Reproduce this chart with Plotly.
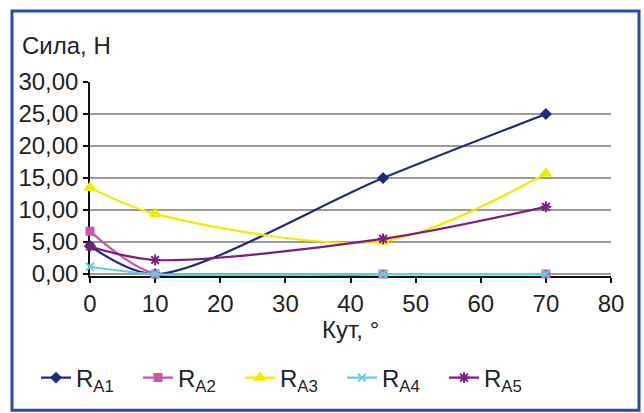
import plotly.graph_objects as go

angles = [0, 10, 45, 70]
r_a1 = [4.4, 0.0, 15.0, 25.0]
r_a2 = [6.7, 0.0, 0.0, 0.0]
r_a3 = [13.5, 9.4, 5.1, 15.7]
r_a4 = [1.15, 0.0, 0.0, 0.0]
r_a5 = [4.3, 2.2, 5.5, 10.5]

names = ["R<sub>A1</sub>", "R<sub>A2</sub>", "R<sub>A3</sub>", "R<sub>A4</sub>", "R<sub>A5</sub>"]
series = [r_a1, r_a2, r_a3, r_a4, r_a5]
colors = ["#1f2a7a", "#cc55aa", "#f2ea00", "#66cce0", "#7a1f80"]
symbols = ["diamond", "square", "triangle-up", "x-thin", "asterisk"]
sizes = [7, 7, 9, 8, 9]

y_ticks = [0, 5, 10, 15, 20, 25, 30]
y_labels = ["0,00", "5,00", "10,00", "15,00", "20,00", "25,00", "30,00"]
x_ticks = [0, 10, 20, 30, 40, 50, 60, 70, 80]

FONT = "Liberation Sans, Arial, sans-serif"
FS = 24

fig = go.Figure()
for name, ys, c, s, sz in zip(names, series, colors, symbols, sizes):
    fig.add_trace(go.Scatter(
        x=angles, y=ys, name=name, mode="lines+markers",
        line=dict(color=c, width=2.2, shape="spline", smoothing=0.85),
        marker=dict(symbol=s, size=sz, color=c, line=dict(color=c, width=2)),
        cliponaxis=False,
    ))

W, H = 644, 413
Y0 = -0.3
L, R, T = 90, 33, 82
B = 139 - (-Y0) * 6.4
pw, ph = W - L - R, H - T - B

def px(x):
    return (x - L) / pw

def py(y):
    return (H - B - y) / ph

fig.update_layout(
    width=W, height=H,
    margin=dict(l=L, r=R, t=T, b=B, pad=0, autoexpand=False),
    paper_bgcolor="white", plot_bgcolor="white",
    font=dict(family=FONT, size=FS, color="#222222"),
    showlegend=True,
    legend=dict(
        orientation="h", xref="container", yref="container",
        x=36 / W, y=1 - 378 / H, xanchor="left", yanchor="middle",
        font=dict(size=FS, color="#222222"), itemwidth=30,
        entrywidth=57, entrywidthmode="pixels",
        bgcolor="rgba(0,0,0,0)", tracegroupgap=0,
    ),
    xaxis=dict(
        range=[0, 80], tickvals=x_ticks, ticktext=[str(v) for v in x_ticks],
        showgrid=False, zeroline=False, layer="below traces",
        showline=True, linecolor="#111111", linewidth=1.5,
        ticks="outside", ticklen=5, tickcolor="#111111", tickwidth=1.5,
        tickfont=dict(size=FS, family=FONT, color="#222222"),
    ),
    yaxis=dict(
        range=[Y0, 30], tickvals=y_ticks, ticktext=y_labels,
        showgrid=True, gridcolor="#9a9a9a", gridwidth=1.5, zeroline=False,
        layer="below traces",
        showline=True, linecolor="#111111", linewidth=1.5,
        ticks="outside", ticklen=5, tickcolor="#111111", tickwidth=1.5,
        tickfont=dict(size=FS, family=FONT, color="#222222"),
    ),
    annotations=[
        dict(text="Сила, Н", x=px(20), y=py(46), xref="paper", yref="paper",
             xanchor="left", yanchor="middle", showarrow=False,
             font=dict(size=FS, family=FONT, color="#222222")),
        dict(text="Кут, °", x=px(350), y=py(329), xref="paper", yref="paper",
             xanchor="center", yanchor="middle", showarrow=False,
             font=dict(size=FS, family=FONT, color="#222222")),
    ],
    shapes=[
        dict(type="rect", xref="paper", yref="paper",
             x0=px(12), x1=px(639), y0=py(410), y1=py(11),
             line=dict(color="#2a4aa8", width=3), layer="below"),
    ],
)

fig.write_html("out.html")
